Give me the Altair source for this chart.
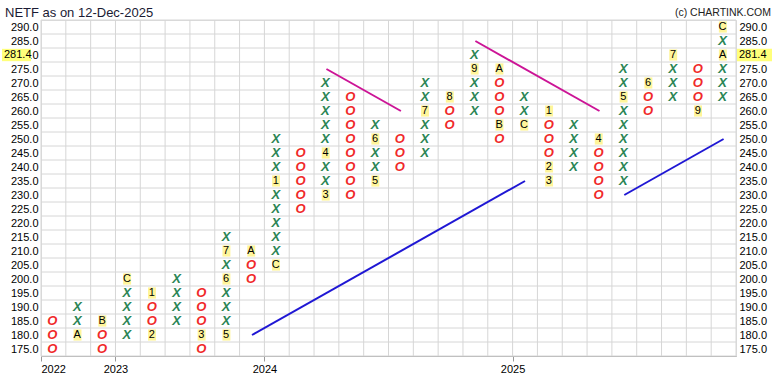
import altair as alt
import pandas as pd
import math

# ---------------- data ----------------
title_text = "NETF as on 12-Dec-2025"
credit_text = "(c) CHARTINK.COM"
last_price = 281.4
box = 5

col_kind = ["O", "X"] * 14
col_low = [175, 180, 175, 180, 180, 185, 175, 180, 200, 205, 225, 230, 230, 235,
           240, 245, 255, 260, 250, 255, 235, 240, 230, 235, 260, 265, 260, 265]
col_high = [185, 190, 185, 200, 195, 200, 195, 215, 210, 250, 245, 270, 265, 255,
            250, 270, 265, 280, 275, 265, 260, 255, 250, 275, 270, 280, 275, 290]

month_col = [2, 3, 4, 5, 5, 7, 8, 8, 8, 9, 10, 10, 12, 12, 14, 14, 16, 17, 18, 19,
             19, 20, 21, 21, 21, 23, 24, 25, 26, 27, 28, 28]
month_price = [180, 185, 200, 195, 180, 180, 180, 200, 210, 210, 205, 235, 230, 245,
               235, 250, 260, 265, 275, 275, 255, 255, 260, 240, 235, 250, 265, 270,
               280, 260, 280, 290]
month_label = ["A", "B", "C", "1", "2", "3", "5", "6", "7", "A", "C", "1", "3", "4",
               "5", "6", "7", "8", "9", "A", "B", "C", "1", "2", "3", "4", "5", "6",
               "7", "9", "A", "C"]

trend_id = ["s1", "s1", "s2", "s2", "r1", "r1", "r2", "r2"]
trend_kind = ["support"] * 4 + ["resistance"] * 4
trend_col = [9, 20, 24, 28, 12, 15, 18, 23]
trend_price = [180, 235, 230, 250, 275, 260, 285, 260]

year_labels = ["2022", "2023", "2024", "2025"]
year_pos = [0, 3, 9, 19]

# ---------------- derived tables ----------------
n_cols = len(col_kind)
y_lo, y_hi = min(col_low) - box / 2, max(col_high) + box / 2
month_set = {(c, p) for c, p in zip(month_col, month_price)}

sym_rows = []
for i, (k, lo, hi) in enumerate(zip(col_kind, col_low, col_high), start=1):
    for p in range(lo, hi + box, box):
        if (i, p) not in month_set:
            sym_rows.append({"x": i - 0.5, "price": p, "kind": k})
sym_df = pd.DataFrame(sym_rows)

month_df = pd.DataFrame({"col": month_col, "price": month_price, "label": month_label})
month_df["x"] = month_df["col"] - 0.5
month_df["x1"] = month_df["x"] - 0.19
month_df["x2"] = month_df["x"] + 0.13
month_df["y1"] = month_df["price"] - 2.0
month_df["y2"] = month_df["price"] + 2.0

trend_df = pd.DataFrame({"id": trend_id, "kind": trend_kind,
                         "x": [c - 0.5 for c in trend_col], "price": trend_price})

vgrid_df = pd.DataFrame({"x": list(range(0, n_cols + 1))})
hgrid_df = pd.DataFrame({"y": [y_lo + box * k for k in range(int((y_hi - y_lo) / box) + 1)]})
tick_values = list(range(min(col_low), max(col_high) + box, box))
ticks_df = pd.DataFrame({"y": tick_values})
years_df = pd.DataFrame({"x": year_pos, "year": year_labels})

tag_row = box * math.floor(last_price / box)
tag_df = pd.DataFrame({"price": [tag_row], "label": [f"{last_price:.1f}"],
                       "y1": [tag_row - 2.2], "y2": [tag_row + 2.2]})

FONT = "Liberation Sans"
xs = alt.Scale(domain=[0, n_cols], nice=False, zero=False)
ys = alt.Scale(domain=[y_lo, y_hi], nice=False, zero=False)

year_expr = " : ".join(f"datum.value == {p} ? '{l}'" for p, l in zip(year_pos, year_labels)) + " : ''"

# ---------------- layers ----------------
vgrid = alt.Chart(vgrid_df).mark_rule(color="#d6d6d6", strokeWidth=1).encode(
    x=alt.X("x:Q", scale=xs, axis=None),
)

hgrid = alt.Chart(hgrid_df).mark_rule(color="#d6d6d6", strokeWidth=1).encode(
    y=alt.Y("y:Q", scale=ys, axis=None),
)

bottom_axis = alt.Chart(years_df).mark_rule(opacity=0).encode(
    x=alt.X("x:Q", scale=xs, axis=alt.Axis(
        values=year_pos, labelExpr=year_expr, title=None, grid=False, orient="bottom",
        ticks=True, tickSize=5, tickColor="#999", domain=True, domainColor="#aaa",
        labelFont=FONT, labelFontSize=11, labelColor="#000", labelPadding=2)),
)

left_axis = alt.Chart(ticks_df).mark_rule(opacity=0).encode(
    y=alt.Y("y:Q", scale=ys, axis=alt.Axis(
        values=tick_values, format=".1f", title=None, grid=False, ticks=False,
        domain=False, labelFont=FONT, labelFontSize=11, labelColor="#000",
        labelPadding=3, orient="left")),
)

right_axis = alt.Chart(ticks_df).mark_rule(opacity=0).encode(
    y=alt.Y("y:Q", scale=ys, axis=alt.Axis(
        values=tick_values, labelExpr=f"datum.value == {tag_row} ? '' : format(datum.value, '.1f')",
        title=None, grid=False, ticks=False, domain=False, labelFont=FONT,
        labelFontSize=11, labelColor="#000", labelPadding=3, orient="right")),
)

symbols = alt.Chart(sym_df).mark_text(
    font=FONT, fontSize=13, fontStyle="italic", fontWeight="bold", dx=-1, baseline="middle"
).encode(
    x=alt.X("x:Q", scale=xs, axis=None),
    y=alt.Y("price:Q", scale=ys, axis=None),
    text="kind:N",
    color=alt.Color("kind:N", scale=alt.Scale(domain=["X", "O"], range=["#2b8555", "#f02a2a"]),
                    legend=None),
)

month_bg = alt.Chart(month_df).mark_rect(color="#fff59a").encode(
    x=alt.X("x1:Q", scale=xs, axis=None), x2="x2:Q",
    y=alt.Y("y1:Q", scale=ys, axis=None), y2="y2:Q",
)

month_txt = alt.Chart(month_df).mark_text(
    font=FONT, fontSize=11, color="#000", dx=-1, baseline="middle"
).encode(
    x=alt.X("x:Q", scale=xs, axis=None),
    y=alt.Y("price:Q", scale=ys, axis=None),
    text="label:N",
)

trends = alt.Chart(trend_df).mark_line(strokeWidth=2).encode(
    x=alt.X("x:Q", scale=xs, axis=None),
    y=alt.Y("price:Q", scale=ys, axis=None),
    detail="id:N",
    color=alt.Color("kind:N", scale=alt.Scale(domain=["support", "resistance"],
                                              range=["#1f17d4", "#cc1496"]), legend=None),
)

tag_bg_left = alt.Chart(tag_df).mark_rect(color="#ffff7a").encode(
    x=alt.value(-39), x2=alt.value(-10),
    y=alt.Y("y1:Q", scale=ys, axis=None), y2="y2:Q",
)
tag_txt_left = alt.Chart(tag_df).mark_text(
    font=FONT, fontSize=11, color="#000", align="left", baseline="middle"
).encode(x=alt.value(-37), y=alt.Y("price:Q", scale=ys, axis=None), text="label:N")

tag_bg_right = alt.Chart(tag_df).mark_rect(color="#ffff7a").encode(
    x=alt.value(696), x2=alt.value(731),
    y=alt.Y("y1:Q", scale=ys, axis=None), y2="y2:Q",
)
tag_txt_right = alt.Chart(tag_df).mark_text(
    font=FONT, fontSize=11, color="#000", align="left", baseline="middle"
).encode(x=alt.value(698), y=alt.Y("price:Q", scale=ys, axis=None), text="label:N")

title_df = pd.DataFrame({"t": [title_text]})
title_mark = alt.Chart(title_df).mark_text(
    font=FONT, fontSize=13, color="#1a1a33", align="left", baseline="middle"
).encode(x=alt.value(-36), y=alt.value(-7), text="t:N")

credit_df = pd.DataFrame({"t": [credit_text]})
credit_mark = alt.Chart(credit_df).mark_text(
    font=FONT, fontSize=10.5, color="#222", align="right", baseline="middle"
).encode(x=alt.value(730), y=alt.value(-7), text="t:N")

chart = alt.layer(
    vgrid, hgrid, bottom_axis, left_axis, right_axis, trends, month_bg, month_txt, symbols,
    tag_bg_left, tag_txt_left, tag_bg_right, tag_txt_right, title_mark, credit_mark,
).resolve_axis(y="independent", x="independent").resolve_scale(color="independent").properties(
    width=695, height=336, autosize="none",
    padding={"left": 41, "top": 20, "right": 42, "bottom": 30},
).configure_view(stroke=None).configure(background="white")

chart.save("out.html", embed_options={"renderer": "svg", "actions": False})
